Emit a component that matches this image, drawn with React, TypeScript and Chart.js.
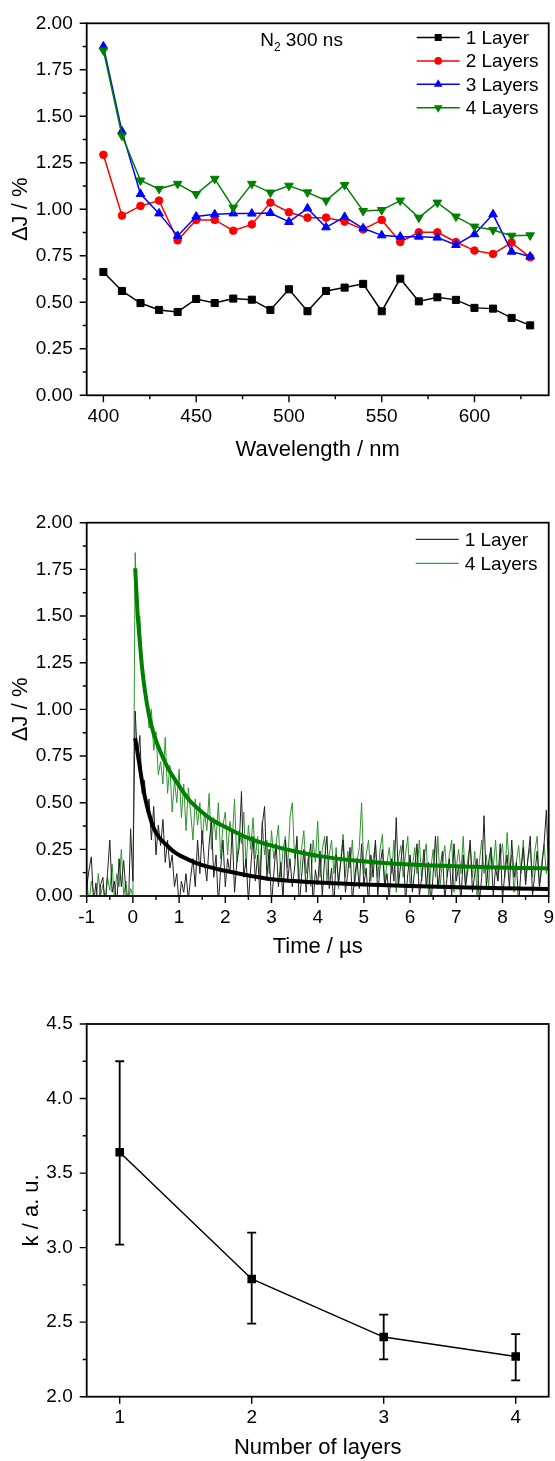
import React, { useEffect, useRef } from "react";
import { Chart, registerables } from "chart.js";

Chart.register(...registerables);

const FONT = "'Liberation Sans', Arial, Helvetica, sans-serif";

// ---------------- Panel 1: spectra ----------------
const WAVELENGTHS = [400, 410, 420, 430, 440, 450, 460, 470, 480, 490, 500, 510, 520, 530, 540, 550, 560, 570, 580, 590, 600, 610, 620, 630];
const LAYER1 = [0.663, 0.561, 0.496, 0.459, 0.448, 0.518, 0.496, 0.520, 0.514, 0.459, 0.570, 0.452, 0.561, 0.579, 0.599, 0.452, 0.627, 0.505, 0.527, 0.513, 0.470, 0.466, 0.416, 0.376];
const LAYER2 = [1.293, 0.966, 1.018, 1.047, 0.833, 0.943, 0.943, 0.885, 0.919, 1.036, 0.984, 0.955, 0.955, 0.934, 0.892, 0.943, 0.824, 0.876, 0.876, 0.824, 0.778, 0.760, 0.821, 0.742];
const LAYER3 = [1.876, 1.419, 1.082, 0.978, 0.857, 0.961, 0.973, 0.978, 0.977, 0.980, 0.932, 1.005, 0.903, 0.959, 0.898, 0.860, 0.853, 0.853, 0.848, 0.808, 0.866, 0.973, 0.772, 0.746];
const LAYER4 = [1.854, 1.396, 1.155, 1.110, 1.137, 1.082, 1.164, 1.009, 1.137, 1.090, 1.127, 1.091, 1.047, 1.131, 0.991, 0.996, 1.047, 0.955, 1.036, 0.961, 0.907, 0.889, 0.858, 0.860];
const WL_TICKS = [400, 450, 500, 550, 600];
const WL_MINOR = [425, 475, 525, 575, 625];
const DJ_TICKS = [0, 0.25, 0.5, 0.75, 1.0, 1.25, 1.5, 1.75, 2.0];
const DJ_MINOR = [0.125, 0.375, 0.625, 0.875, 1.125, 1.375, 1.625, 1.875];

// ---------------- Panel 2: kinetics ----------------
const T_START = -1;
const T_STEP = 0.05;
const TRACE_1 = [
  0.05, 0.14, 0.21, -0.04, 0.07, -0.08, 0.06, 0.10, -0.05, 0.12, 0.30, 0.02, 0.08, -0.06, 0.20, 0.05, 0.19, 0.02, -0.10, 0.36,
  0.08, 0.99, 0.72, 0.86, 0.55, 0.62, 0.45, 0.52, 0.30, 0.48, 0.22, 0.38, 0.27, 0.41, 0.18, 0.30, 0.15, 0.22, 0.05, 0.12,
  -0.05, 0.08, 0.02, 0.12, -0.02, 0.10, 0.20, 0.05, 0.30, 0.12, 0.35, 0.18, 0.08, 0.28, 0.40, 0.10, 0.22, -0.05, 0.15, 0.30,
  0.05, 0.20, 0.12, 0.35, 0.02, 0.18, 0.26, 0.56, 0.10, 0.20, -0.03, 0.15, 0.32, 0.08, 0.22, 0.00, 0.38, 0.48, 0.10, 0.25,
  -0.05, 0.12, 0.28, 0.05, 0.18, -0.02, 0.30, 0.08, 0.20, 0.05, 0.15, 0.32, -0.05, 0.10, 0.25, 0.02, 0.18, 0.28, -0.04, 0.14,
  0.06, 0.24, 0.00, 0.20, 0.32, 0.04, 0.15, -0.06, 0.22, 0.08, 0.18, 0.30, 0.02, 0.12, 0.26, -0.03, 0.10, 0.20, 0.04, 0.28,
  0.06, 0.15, -0.05, 0.22, 0.10, 0.30, 0.00, 0.16, 0.25, 0.05, 0.12, -0.02, 0.20, 0.08, 0.42, 0.06, 0.18, 0.30, -0.04, 0.12,
  0.22, 0.02, 0.14, 0.28, 0.00, 0.10, 0.25, 0.05, 0.18, -0.05, 0.12, 0.32, 0.04, 0.15, 0.24, -0.02, 0.10, 0.20, 0.00, 0.28,
  0.08, 0.16, -0.04, 0.22, 0.05, 0.14, 0.30, 0.02, 0.12, 0.20, -0.03, 0.10, 0.43, 0.05, 0.18, 0.26, 0.00, 0.15, 0.08, 0.28,
  -0.02, 0.12, 0.22, 0.04, 0.30, 0.10, 0.18, -0.05, 0.14, 0.26, 0.06, 0.20, 0.32, 0.00, 0.12, 0.24, 0.05, 0.15, 0.28, 0.46,
  0.10,
];
const TRACE_4 = [
  0.10, -0.05, 0.08, 0.02, -0.06, 0.12, 0.00, 0.06, -0.04, 0.10, 0.03, 0.17, -0.02, 0.12, 0.05, 0.25, 0.00, 0.08, -0.05, 0.04,
  0.00, 1.84, 1.45, 1.50, 1.25, 1.15, 1.05, 0.90, 1.00, 0.78, 0.88, 0.65, 0.72, 0.60, 0.85, 0.55, 0.70, 0.45, 0.62, 0.50,
  0.68, 0.42, 0.60, 0.35, 0.58, 0.45, 0.30, 0.52, 0.38, 0.50, 0.28, 0.45, 0.35, 0.55, 0.25, 0.42, 0.30, 0.50, 0.20, 0.38,
  0.45, 0.22, 0.40, 0.30, 0.52, 0.18, 0.35, 0.28, 0.45, 0.15, 0.38, 0.25, 0.42, 0.20, 0.32, 0.10, 0.40, 0.22, 0.30, 0.12,
  0.35, 0.20, 0.28, 0.38, 0.10, 0.25, 0.32, 0.15, 0.42, 0.50, 0.20, 0.30, 0.08, 0.25, 0.35, 0.12, 0.22, 0.05, 0.30, 0.18,
  0.40, 0.10, 0.25, 0.32, 0.08, 0.22, 0.30, 0.12, 0.26, 0.04, 0.20, 0.33, 0.10, 0.24, 0.15, 0.30, 0.05, 0.18, 0.26, 0.50,
  0.12, 0.22, 0.30, 0.08, 0.20, 0.28, 0.10, 0.25, 0.33, 0.06, 0.18, 0.26, 0.12, 0.30, 0.02, 0.20, 0.27, 0.10, 0.22, 0.32,
  0.05, 0.16, 0.26, 0.12, 0.30, 0.08, 0.20, 0.28, 0.00, 0.15, 0.25, 0.10, 0.32, 0.06, 0.18, 0.27, 0.10, 0.22, 0.30, 0.02,
  0.15, 0.25, 0.12, 0.32, 0.05, 0.20, 0.28, 0.10, 0.24, 0.00, 0.18, 0.30, 0.12, 0.22, 0.05, 0.26, 0.15, 0.30, 0.08, 0.20,
  0.28, 0.10, 0.34, 0.15, 0.22, 0.02, 0.18, 0.27, 0.12, 0.30, 0.08, 0.20, 0.26, 0.10, 0.24, 0.32, 0.05, 0.18, 0.28, 0.12,
  0.22,
];
const FIT1_T = [0.05, 0.1, 0.15, 0.2, 0.26, 0.35, 0.44, 0.55, 0.7, 0.9, 1.2, 1.5, 2.0, 2.5, 3.0, 3.5, 4.0, 5.0, 6.0, 7.0, 8.0, 9.0];
const FIT1_Y = [0.845, 0.77, 0.69, 0.61, 0.53, 0.44, 0.37, 0.32, 0.28, 0.235, 0.195, 0.165, 0.135, 0.11, 0.09, 0.08, 0.072, 0.062, 0.053, 0.047, 0.042, 0.038];
const FIT4_T = [0.05, 0.1, 0.15, 0.2, 0.26, 0.34, 0.45, 0.6, 0.75, 1.0, 1.2, 1.4, 1.7, 2.0, 2.5, 3.0, 3.5, 4.0, 4.8, 5.5, 6.5, 7.5, 8.5, 9.0];
const FIT4_Y = [1.756, 1.52, 1.36, 1.22, 1.1, 0.98, 0.87, 0.77, 0.69, 0.59, 0.52, 0.47, 0.41, 0.37, 0.31, 0.27, 0.24, 0.215, 0.19, 0.175, 0.163, 0.155, 0.15, 0.148];
const TIME_TICKS = [-1, 0, 1, 2, 3, 4, 5, 6, 7, 8, 9];
const TIME_MINOR = [-0.5, 0.5, 1.5, 2.5, 3.5, 4.5, 5.5, 6.5, 7.5, 8.5];

// ---------------- Panel 3: rate constants ----------------
const LAYERS = [1, 2, 3, 4];
const K_VALUES = [3.64, 2.79, 2.40, 2.27];
const K_HIGH = [4.25, 3.10, 2.55, 2.42];
const K_LOW = [3.02, 2.49, 2.25, 2.11];
const LAYER_TICKS = [1, 2, 3, 4];
const K_TICKS = [2.0, 2.5, 3.0, 3.5, 4.0, 4.5];
const K_MINOR = [2.25, 2.75, 3.25, 3.75, 4.25];

// ---------------- helpers ----------------
function drawMarker(ctx: CanvasRenderingContext2D, style: string, x: number, y: number, color: string) {
  ctx.save();
  ctx.fillStyle = color;
  ctx.beginPath();
  if (style === "rect") {
    ctx.rect(x - 3.5, y - 3.5, 7, 7);
  } else if (style === "circle") {
    ctx.arc(x, y, 3.8, 0, Math.PI * 2);
  } else if (style === "triangle") {
    const r = 5;
    ctx.moveTo(x, y - r);
    ctx.lineTo(x - r * 0.866, y + r / 2);
    ctx.lineTo(x + r * 0.866, y + r / 2);
    ctx.closePath();
  } else if (style === "triangleDown") {
    const r = 5;
    ctx.moveTo(x, y + r);
    ctx.lineTo(x - r * 0.866, y - r / 2);
    ctx.lineTo(x + r * 0.866, y - r / 2);
    ctx.closePath();
  }
  ctx.fill();
  ctx.restore();
}

function makeFramePlugin(xMajor: number[], xMinor: number[], yMajor: number[], yMinor: number[]) {
  return {
    id: "frameTicks",
    afterDraw(chart: any) {
      const { ctx, chartArea: a } = chart;
      const xs = chart.scales.x;
      const ys = chart.scales.y;
      ctx.save();
      ctx.strokeStyle = "#000";
      ctx.lineWidth = 1.4;
      ctx.beginPath();
      xMajor.forEach((v) => {
        const p = xs.getPixelForValue(v);
        ctx.moveTo(p, a.bottom);
        ctx.lineTo(p, a.bottom + 7);
      });
      xMinor.forEach((v) => {
        const p = xs.getPixelForValue(v);
        ctx.moveTo(p, a.bottom);
        ctx.lineTo(p, a.bottom + 4);
      });
      yMajor.forEach((v) => {
        const p = ys.getPixelForValue(v);
        ctx.moveTo(a.left, p);
        ctx.lineTo(a.left - 7, p);
      });
      yMinor.forEach((v) => {
        const p = ys.getPixelForValue(v);
        ctx.moveTo(a.left, p);
        ctx.lineTo(a.left - 4, p);
      });
      ctx.stroke();
      ctx.lineWidth = 1.8;
      ctx.strokeRect(a.left, a.top, a.right - a.left, a.bottom - a.top);
      ctx.restore();
    },
  };
}

type LegendItem = { label: string; color: string; width: number; marker?: string };

function makeLegendPlugin(items: LegendItem[], dxFromRight: number, dyFromTop: number, gap: number) {
  return {
    id: "customLegend",
    afterDraw(chart: any) {
      const { ctx, chartArea: a } = chart;
      const x1 = a.right - dxFromRight;
      const x2 = x1 + 43;
      items.forEach((it, i) => {
        const y = a.top + dyFromTop + i * gap;
        ctx.save();
        ctx.strokeStyle = it.color;
        ctx.lineWidth = it.width;
        ctx.beginPath();
        ctx.moveTo(x1, y);
        ctx.lineTo(x2, y);
        ctx.stroke();
        if (it.marker) drawMarker(ctx, it.marker, (x1 + x2) / 2, y, it.color);
        ctx.fillStyle = "#000";
        ctx.font = `19px ${FONT}`;
        ctx.textBaseline = "middle";
        ctx.textAlign = "left";
        ctx.fillText(it.label, x2 + 6, y + 1);
        ctx.restore();
      });
    },
  };
}

const annotationPlugin = {
  id: "n2label",
  afterDraw(chart: any) {
    const { ctx, chartArea: a } = chart;
    const x = a.left + 173.5;
    const y = a.top + 22.7;
    ctx.save();
    ctx.fillStyle = "#000";
    ctx.textBaseline = "alphabetic";
    ctx.textAlign = "left";
    ctx.font = `19px ${FONT}`;
    ctx.fillText("N", x, y);
    const wN = ctx.measureText("N").width;
    ctx.font = `12px ${FONT}`;
    ctx.fillText("2", x + wN, y + 5);
    const w2 = ctx.measureText("2").width;
    ctx.font = `19px ${FONT}`;
    ctx.fillText(" 300 ns", x + wN + w2, y);
    ctx.restore();
  },
};

const errorBarPlugin = {
  id: "errorBars",
  beforeDatasetsDraw(chart: any) {
    const { ctx } = chart;
    const xs = chart.scales.x;
    const ys = chart.scales.y;
    ctx.save();
    ctx.strokeStyle = "#000";
    ctx.lineWidth = 1.8;
    ctx.beginPath();
    LAYERS.forEach((l, i) => {
      const px = xs.getPixelForValue(l);
      const top = ys.getPixelForValue(K_HIGH[i]);
      const bot = ys.getPixelForValue(K_LOW[i]);
      ctx.moveTo(px, top);
      ctx.lineTo(px, bot);
      ctx.moveTo(px - 4.5, top);
      ctx.lineTo(px + 4.5, top);
      ctx.moveTo(px - 4.5, bot);
      ctx.lineTo(px + 4.5, bot);
    });
    ctx.stroke();
    ctx.restore();
  },
};

function xAxis(min: number, max: number, ticks: number[], fmt: (v: number) => string, title: string, height: number, titlePad: number) {
  return {
    type: "linear" as const,
    min,
    max,
    afterBuildTicks: (s: any) => {
      s.ticks = ticks.map((v) => ({ value: v }));
    },
    afterFit: (s: any) => {
      s.height = height;
    },
    border: { display: false },
    grid: { display: true, drawOnChartArea: false, drawTicks: true, tickLength: 10, tickColor: "rgba(0,0,0,0)", color: "rgba(0,0,0,0)" },
    ticks: { padding: 0, autoSkip: false, maxRotation: 0, color: "#000", font: { size: 19, family: FONT }, callback: (v: any) => fmt(Number(v)) },
    title: { display: true, text: title, color: "#000", font: { size: 22, family: FONT }, padding: { top: 0, bottom: titlePad } },
  };
}

function yAxis(min: number, max: number, ticks: number[], fmt: (v: number) => string, title: string, titlePad: number) {
  return {
    type: "linear" as const,
    min,
    max,
    afterBuildTicks: (s: any) => {
      s.ticks = ticks.map((v) => ({ value: v }));
    },
    afterFit: (s: any) => {
      s.width = 86.7;
    },
    border: { display: false },
    grid: { display: true, drawOnChartArea: false, drawTicks: true, tickLength: 14, tickColor: "rgba(0,0,0,0)", color: "rgba(0,0,0,0)" },
    ticks: { padding: 0, autoSkip: false, color: "#000", font: { size: 19, family: FONT }, callback: (v: any) => fmt(Number(v)) },
    title: { display: true, text: title, color: "#000", font: { size: 22, family: FONT }, padding: { top: titlePad, bottom: 0 } },
  };
}

const baseOptions = {
  responsive: false,
  animation: false as const,
  devicePixelRatio: 1,
  events: [] as any[],
  plugins: { legend: { display: false }, tooltip: { enabled: false } },
};

function config1(): any {
  const mk = (label: string, vals: number[], color: string, style: string, radius: number, rot: number, order: number) => ({
    label,
    data: vals.map((y, i) => ({ x: WAVELENGTHS[i], y })),
    borderColor: color,
    backgroundColor: color,
    borderWidth: 1.5,
    pointStyle: style,
    pointRadius: radius,
    pointRotation: rot,
    pointBorderWidth: 1,
    pointBackgroundColor: color,
    pointBorderColor: color,
    order,
    clip: false,
  });
  return {
    type: "line",
    data: {
      datasets: [
        mk("1 Layer", LAYER1, "#000000", "rect", 5, 0, 3),
        mk("2 Layers", LAYER2, "#ff0000", "circle", 3.8, 0, 2),
        mk("3 Layers", LAYER3, "#0000ff", "triangle", 5, 0, 1),
        mk("4 Layers", LAYER4, "#008000", "triangle", 5, 180, 0),
      ],
    },
    options: {
      ...baseOptions,
      layout: { autoPadding: false, padding: { top: 23.3, right: 6.3, left: 0, bottom: 0 } },
      scales: {
        x: xAxis(391, 640, WL_TICKS, (v) => String(v), "Wavelength / nm", 74.7, 7.3),
        y: yAxis(0, 2, DJ_TICKS, (v) => v.toFixed(2), "ΔJ / %", 8),
      },
    },
    plugins: [
      makeFramePlugin(WL_TICKS, WL_MINOR, DJ_TICKS, DJ_MINOR),
      makeLegendPlugin(
        [
          { label: "1 Layer", color: "#000000", width: 1.5, marker: "rect" },
          { label: "2 Layers", color: "#ff0000", width: 1.5, marker: "circle" },
          { label: "3 Layers", color: "#0000ff", width: 1.5, marker: "triangle" },
          { label: "4 Layers", color: "#008000", width: 1.5, marker: "triangleDown" },
        ],
        132,
        14.2,
        23.4
      ),
      annotationPlugin,
    ],
  };
}

function config2(): any {
  const trace = (vals: number[]) => vals.map((y, i) => ({ x: T_START + i * T_STEP, y }));
  const fit = (ts: number[], ys: number[]) => ts.map((t, i) => ({ x: t, y: ys[i] }));
  return {
    type: "line",
    data: {
      datasets: [
        { label: "fit 1", data: fit(FIT1_T, FIT1_Y), borderColor: "#000000", borderWidth: 4, pointRadius: 0, cubicInterpolationMode: "monotone", clip: 0 },
        { label: "fit 4", data: fit(FIT4_T, FIT4_Y), borderColor: "#008000", borderWidth: 4, pointRadius: 0, cubicInterpolationMode: "monotone", clip: 0 },
        { label: "1 Layer", data: trace(TRACE_1), borderColor: "#222222", borderWidth: 1, pointRadius: 0, tension: 0, clip: 0 },
        { label: "4 Layers", data: trace(TRACE_4), borderColor: "#2f962f", borderWidth: 1, pointRadius: 0, tension: 0, clip: 0 },
      ],
    },
    options: {
      ...baseOptions,
      layout: { autoPadding: false, padding: { top: 52.7, right: 6.3, left: 0, bottom: 0 } },
      scales: {
        x: xAxis(-1, 9, TIME_TICKS, (v) => String(v), "Time / µs", 64, 0),
        y: yAxis(0, 2, DJ_TICKS, (v) => v.toFixed(2), "ΔJ / %", 8),
      },
    },
    plugins: [
      makeFramePlugin(TIME_TICKS, TIME_MINOR, DJ_TICKS, DJ_MINOR),
      makeLegendPlugin(
        [
          { label: "1 Layer", color: "#333333", width: 1.2 },
          { label: "4 Layers", color: "#3c9c3c", width: 1.2 },
        ],
        133,
        16.6,
        24
      ),
    ],
  };
}

function config3(): any {
  return {
    type: "line",
    data: {
      datasets: [
        {
          label: "k",
          data: LAYERS.map((l, i) => ({ x: l, y: K_VALUES[i] })),
          borderColor: "#000000",
          backgroundColor: "#000000",
          borderWidth: 1.5,
          pointStyle: "rect",
          pointRadius: 5,
          pointBackgroundColor: "#000000",
          pointBorderColor: "#000000",
          clip: false,
        },
      ],
    },
    options: {
      ...baseOptions,
      layout: { autoPadding: false, padding: { top: 64, right: 6.3, left: 0, bottom: 0 } },
      scales: {
        x: xAxis(0.75, 4.25, LAYER_TICKS, (v) => String(v), "Number of layers", 64.3, 0),
        y: yAxis(2, 4.5, K_TICKS, (v) => v.toFixed(1), "k / a. u.", 19),
      },
    },
    plugins: [makeFramePlugin(LAYER_TICKS, [], K_TICKS, K_MINOR), errorBarPlugin],
  };
}

export default function App() {
  const r1 = useRef<HTMLCanvasElement>(null);
  const r2 = useRef<HTMLCanvasElement>(null);
  const r3 = useRef<HTMLCanvasElement>(null);

  useEffect(() => {
    const c1 = new Chart(r1.current as HTMLCanvasElement, config1());
    const c2 = new Chart(r2.current as HTMLCanvasElement, config2());
    const c3 = new Chart(r3.current as HTMLCanvasElement, config3());
    return () => {
      c1.destroy();
      c2.destroy();
      c3.destroy();
    };
  }, []);

  const cs = (top: number, h: number): React.CSSProperties => ({ position: "absolute", left: 0, top, width: 555, height: h, display: "block" });

  return (
    <div style={{ position: "absolute", left: 0, top: 0, width: 555, height: 1461, background: "#ffffff", overflow: "hidden" }}>
      <canvas ref={r1} width={555} height={470} style={cs(0, 470)} />
      <canvas ref={r2} width={555} height={490} style={cs(470, 490)} />
      <canvas ref={r3} width={555} height={501} style={cs(960, 501)} />
    </div>
  );
}
